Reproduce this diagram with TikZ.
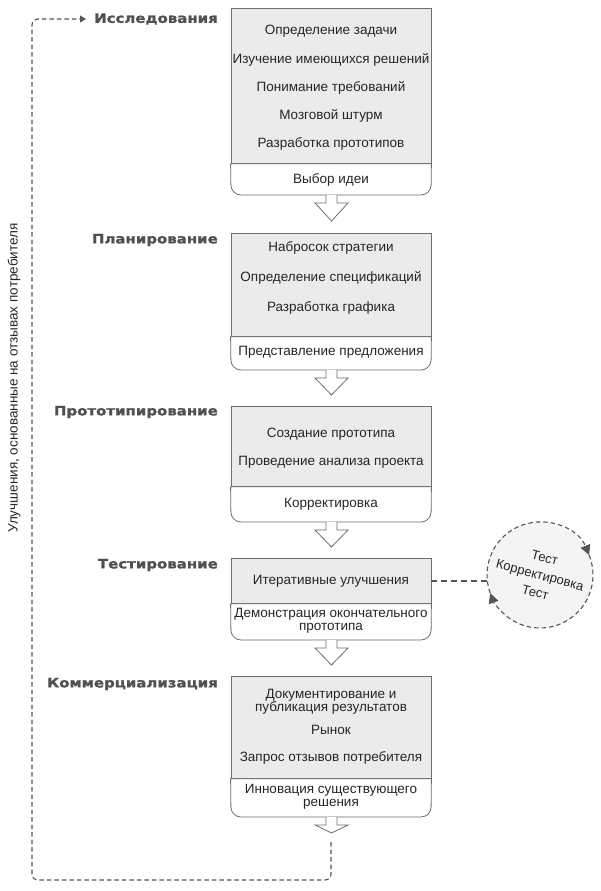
\documentclass[tikz,border=0pt]{standalone}
\usepackage{fontspec}
\setmainfont{Liberation Sans}
\newfontfamily\labfont[FakeStretch=1.15,FakeBold=1.2]{DejaVu Sans}
\usetikzlibrary{arrows.meta}
\definecolor{boxfill}{HTML}{EBEBEB}
\definecolor{boxline}{HTML}{6E6E6E}
\definecolor{labcol}{HTML}{505050}
\definecolor{dashcol}{HTML}{555555}
\definecolor{circfill}{HTML}{F4F4F4}
\tikzset{
  topbox/.style={draw=boxline, fill=boxfill, line width=0.8pt, minimum width=200pt, inner sep=0pt, anchor=north},
  itemtxt/.style={font=\fontsize{13.5}{14}\selectfont, inner sep=0pt, align=center, text=black!85},
  labtxt/.style={font=\labfont\bfseries\fontsize{13}{14}\selectfont, text=labcol, anchor=east, inner sep=0pt},
  botline/.style={draw=boxline, fill=white, line width=0.8pt},
  blockarrow/.style={draw=boxline, fill=white, line width=0.8pt},
  loopline/.style={draw=dashcol, line width=1.1pt, dash pattern=on 4.5pt off 3pt},
}
\newcommand{\bottompart}[2]{% name of top node, bottom y
  \path[botline] (#1.south west) [rounded corners=10pt] -- (231,#2) -- (431,#2) [sharp corners] -- (#1.south east) -- cycle;
}
\newcommand{\blockarr}[2]{% start y, tip y
  \path[blockarrow] (326,#1) -- (326,#1+8) -- (315,#1+8) -- (331.5,#2) -- (348,#1+8) -- (337,#1+8) -- (337,#1);
}
\begin{document}
\begin{tikzpicture}[x=1pt,y=-1pt]
\useasboundingbox (0,0) rectangle (600,891);
\fill[white] (0,0) rectangle (600,891);

% Box 1
\node[topbox, minimum height=155pt] (b1) at (331,8) {};
\bottompart{b1}{195}
\blockarr{195}{221}
\node[itemtxt] (b1a) at (331,31) {Определение задачи};
\node[itemtxt] (b1b) at (331,60) {Изучение имеющихся решений};
\node[itemtxt] (b1c) at (331,88) {Понимание требований};
\node[itemtxt] (b1d) at (331,116) {Мозговой штурм};
\node[itemtxt] (b1e) at (331,144) {Разработка прототипов};
\node[itemtxt] (b1f) at (331,180) {Выбор идеи};
\node[labtxt] (l1) at (218,19) {Исследования};

% Box 2
\node[topbox, minimum height=103pt] (b2) at (331,233) {};
\bottompart{b2}{370}
\blockarr{370}{395}
\node[itemtxt] (b2a) at (331,248) {Набросок стратегии};
\node[itemtxt] (b2b) at (331,278) {Определение спецификаций};
\node[itemtxt] (b2c) at (331,308) {Разработка графика};
\node[itemtxt] (b2d) at (331,352) {Представление предложения};
\node[labtxt] (l2) at (218,240) {Планирование};

% Box 3
\node[topbox, minimum height=80pt] (b3) at (331,406) {};
\bottompart{b3}{522}
\blockarr{522}{547}
\node[itemtxt] (b3a) at (331,434) {Создание прототипа};
\node[itemtxt] (b3b) at (331,462) {Проведение анализа проекта};
\node[itemtxt] (b3c) at (331,504) {Корректировка};
\node[labtxt] (l3) at (218,412) {Прототипирование};

% Box 4
\node[topbox, minimum height=45pt] (b4) at (331,558) {};
\bottompart{b4}{640}
\blockarr{640}{665}
\node[itemtxt] (b4a) at (331,581) {Итеративные улучшения};
\node[itemtxt] (b4b) at (331,621) {Демонстрация окончательного\\[-1pt]прототипа};
\node[labtxt] (l4) at (218,565) {Тестирование};

% Box 5
\node[topbox, minimum height=102pt] (b5) at (331,676) {};
\bottompart{b5}{817}
\blockarr{817}{833}
\node[itemtxt] (b5a) at (331,702) {Документирование и\\[-1pt]публикация результатов};
\node[itemtxt] (b5b) at (331,730) {Рынок};
\node[itemtxt] (b5c) at (331,758) {Запрос отзывов потребителя};
\node[itemtxt] (b5d) at (331,797) {Инновация существующего\\[-1pt]решения};
\node[labtxt] (l5) at (218,684) {Коммерциализация};

% Feedback loop
\coordinate (loopstart) at (331,842);
\coordinate (looptip) at (86,19);
\draw[loopline, -{Triangle[length=6pt,width=7pt]}, rounded corners=6pt]
  (loopstart) -- (331,880) -- (32,880) -- (32,19) -- (looptip);
\node[itemtxt, rotate=90] (fb) at (14,378) {Улучшения, основанные на отзывах потребителя};

% Iteration circle
\node[circle, fill=circfill, minimum size=106pt, inner sep=0pt] (circ) at (540,575) {};
\draw[loopline, -{Triangle[length=10pt,width=10pt]}] (circ.center) ++(200:53pt) arc[start angle=200, end angle=22, radius=53pt];
\draw[loopline, -{Triangle[length=10pt,width=10pt]}] (circ.center) ++(22:53pt) arc[start angle=22, end angle=-160, radius=53pt];
\node[itemtxt, rotate=-15, align=center, font=\fontsize{13}{18}\selectfont] (ctext) at (circ.center) {Тест\\Корректировка\\Тест};
\draw[loopline, dash pattern=on 6pt off 4pt] (b4.east |- b4a) -- (circ.west |- b4a);
\end{tikzpicture}
\end{document}
